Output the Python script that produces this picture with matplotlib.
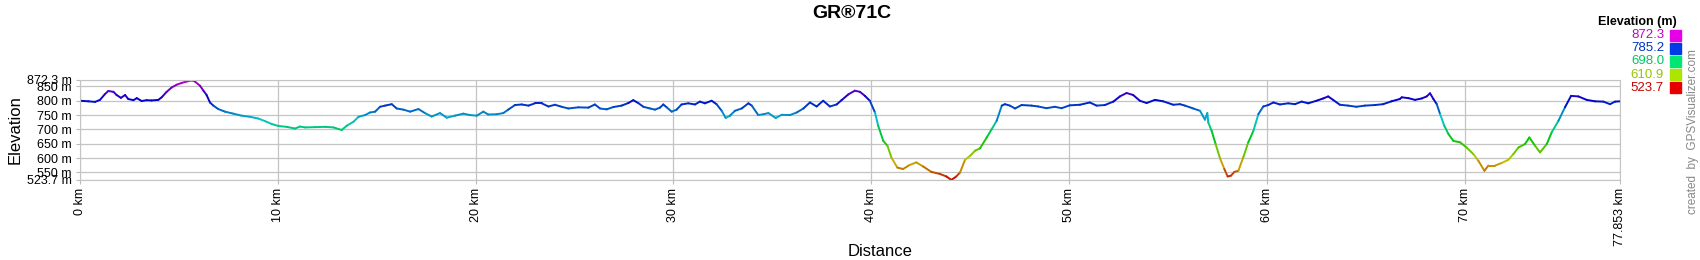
import numpy as np
import matplotlib
matplotlib.use("Agg")
import matplotlib.pyplot as plt
from matplotlib.collections import LineCollection
from matplotlib.colors import hsv_to_rgb

plt.rcParams['font.family'] = ['Liberation Sans', 'DejaVu Sans']

# Elevation profile (km, m)
dist_km = [0.00, 0.42, 0.76, 1.01, 1.26, 1.43, 1.69, 1.85, 2.07, 2.28, 2.44, 2.70, 2.87, 3.12,
           3.37, 3.62, 3.96, 4.13, 4.38, 4.63, 4.89, 5.14, 5.39, 5.65, 5.81, 6.07, 6.24, 6.40,
           6.57, 6.74, 6.99, 7.33, 7.75, 8.17, 8.59, 9.01, 9.35, 9.69, 10.03, 10.45, 10.87, 11.12,
           11.38, 11.88, 12.39, 12.81, 13.23, 13.49, 13.83, 14.08, 14.41, 14.66, 14.92, 15.17,
           15.42, 15.76, 16.01, 16.35, 16.69, 17.11, 17.44, 17.78, 18.20, 18.54, 18.96, 19.38,
           19.72, 20.06, 20.39, 20.64, 21.07, 21.40, 21.65, 21.99, 22.33, 22.67, 23.00, 23.34,
           23.68, 24.01, 24.35, 24.69, 25.19, 25.70, 26.03, 26.29, 26.62, 26.96, 27.38, 27.72,
           27.97, 28.22, 28.48, 28.82, 29.07, 29.32, 29.49, 29.66, 29.91, 30.16, 30.41, 30.75,
           31.09, 31.34, 31.59, 31.93, 32.18, 32.44, 32.64, 32.86, 33.11, 33.45, 33.79, 33.96,
           34.29, 34.55, 34.80, 35.17, 35.47, 35.89, 36.23, 36.57, 36.90, 37.24, 37.57, 37.91,
           38.25, 38.50, 38.84, 39.17, 39.43, 39.68, 39.93, 40.19, 40.35, 40.61, 40.82, 41.02,
           41.32, 41.61, 41.94, 42.28, 42.62, 43.04, 43.46, 43.80, 44.05, 44.30, 44.49, 44.74,
           45.00, 45.25, 45.50, 45.84, 46.09, 46.34, 46.60, 46.76, 47.01, 47.27, 47.60, 48.11,
           48.44, 48.86, 49.28, 49.62, 50.04, 50.55, 51.05, 51.39, 51.81, 52.24, 52.57, 52.91,
           53.24, 53.58, 53.92, 54.34, 54.76, 55.27, 55.61, 55.86, 56.28, 56.62, 56.87, 56.99,
           57.04, 57.21, 57.41, 57.63, 57.85, 58.02, 58.19, 58.36, 58.56, 58.81, 59.06, 59.32,
           59.57, 59.82, 60.07, 60.33, 60.66, 61.08, 61.42, 61.76, 62.09, 62.51, 62.85, 63.10,
           63.35, 63.69, 64.11, 64.53, 64.95, 65.46, 65.88, 66.30, 66.72, 66.82, 67.16, 67.49,
           67.83, 68.08, 68.25, 68.42, 68.59, 68.76, 68.97, 69.18, 69.43, 69.77, 70.10, 70.44,
           70.69, 71.00, 71.20, 71.53, 71.87, 72.21, 72.46, 72.72, 73.05, 73.27, 73.56, 73.81,
           74.15, 74.40, 74.74, 75.07, 75.38, 75.75, 76.17, 76.59, 77.01, 77.35, 77.60, 77.853]
elev_m = [800, 798, 796, 803, 823, 834, 831, 820, 810, 820, 806, 802, 809, 799,
          802, 801, 803, 812, 831, 846, 856, 862, 867, 871, 867, 852, 835, 820,
          794, 783, 771, 762, 755, 748, 744, 738, 729, 719, 712, 709, 703, 710,
          707, 708, 709, 707, 698, 713, 727, 744, 750, 759, 762, 779,
          783, 788, 773, 769, 762, 771, 757, 745, 757, 741, 748, 755,
          750, 748, 762, 752, 753, 757, 769, 785, 787, 783, 791, 791,
          780, 786, 779, 773, 777, 776, 787, 773, 770, 778, 783, 792,
          802, 792, 779, 773, 769, 776, 787, 777, 762, 769, 787, 791,
          787, 797, 791, 800, 788, 765, 740, 748, 765, 773, 791, 783,
          750, 753, 757, 740, 751, 750, 759, 773, 794, 780, 800, 780,
          787, 802, 822, 835, 831, 817, 800, 759, 713, 660, 643, 602,
          567, 562, 576, 585, 571, 552, 545, 536, 524, 536, 550, 594,
          608, 626, 634, 672, 701, 730, 783, 788, 783, 773, 785, 783,
          780, 774, 779, 774, 784, 786, 794, 783, 785, 797, 815, 827,
          820, 800, 792, 803, 798, 786, 788, 783, 773, 765, 734, 757,
          724, 695, 649, 600, 562, 536, 539, 552, 556, 603, 655, 695,
          753, 780, 785, 794, 787, 791, 788, 797, 791, 800, 808, 815,
          803, 786, 783, 779, 783, 785, 788, 798, 806, 812, 809, 803,
          808, 815, 826, 806, 788, 753, 713, 684, 660, 655, 637, 614,
          591, 556, 574, 574, 583, 594, 614, 637, 649, 672, 643, 620,
          649, 690, 730, 777, 817, 815, 803, 798, 797, 788, 797, 798]

elev_min, elev_max = 523.7, 872.3
y_ticks = [523.7, 550, 600, 650, 700, 750, 800, 850, 872.3]
y_labels = ['523.7 m', '550 m', '600 m', '650 m', '700 m', '750 m', '800 m', '850 m', '872.3 m']
x_ticks = [0, 10, 20, 30, 40, 50, 60, 70, 77.853]
x_labels = ['0 km', '10 km', '20 km', '30 km', '40 km', '50 km', '60 km', '70 km', '77.853 km']
legend_vals = [872.3, 785.2, 698.0, 610.9, 523.7]


def elev_color(e, v=0.85):
    # red at the lowest point, magenta at the highest
    h = 300.0 * (e - elev_min) / (elev_max - elev_min) / 360.0
    return hsv_to_rgb([min(max(h, 0), 0.834), 1.0, v])


fig = plt.figure(figsize=(17, 2.6), dpi=100)
ax = fig.add_axes([80 / 1700, 80 / 260, 1540 / 1700, 100 / 260])

x = np.array(dist_km)
y = np.array(elev_m, dtype=float)
segs = np.stack([np.column_stack([x[:-1], y[:-1]]), np.column_stack([x[1:], y[1:]])], axis=1)
cols = [elev_color((a + b) / 2, 0.78) for a, b in zip(y[:-1], y[1:])]
lc = LineCollection(segs, colors=cols, linewidths=1.4, capstyle='round', joinstyle='round')
ax.add_collection(lc)

ax.set_xlim(0, 77.853)
ax.set_ylim(elev_min, elev_max)
ax.set_xticks(x_ticks)
ax.set_xticklabels(x_labels, rotation=90, fontsize=9)
ax.set_yticks(y_ticks)
ax.set_yticklabels(y_labels, fontsize=9)
ax.tick_params(length=3, color='#bbbbbb', pad=3)
ax.grid(True, color='#c4c4c4', linewidth=0.9)
for s in ax.spines.values():
    s.set_color('#c4c4c4')

ax.set_ylabel('Elevation', fontsize=12, labelpad=3)
fig.text(880 / 1700, 1 - 251 / 260, 'Distance', fontsize=12, ha='center', va='center')
fig.text(852 / 1700, 1 - 14 / 260, 'GR®71C', fontsize=14, fontweight='bold', ha='center', va='center')

# colour legend on the right
fig.text(1677 / 1700, 1 - 22 / 260, 'Elevation (m)', fontsize=9, fontweight='bold', ha='right', va='center')
for i, val in enumerate(legend_vals):
    yy = 1 - (35 + 13.2 * i) / 260
    fig.text(1664 / 1700, yy, f'{val:.1f}', fontsize=9.5,
             color=elev_color(val, 0.78), ha='right', va='center')
    fig.patches.append(plt.Rectangle((1670 / 1700, yy - 5.5 / 260), 11 / 1700, 11 / 260,
                                     transform=fig.transFigure, color=elev_color(val, 0.9)))

fig.text(1693 / 1700, 1 - 132 / 260, 'created  by  GPSVisualizer.com', fontsize=8.5, color='#888888',
         rotation=90, ha='center', va='center')

fig.savefig('out.png', dpi=100)
